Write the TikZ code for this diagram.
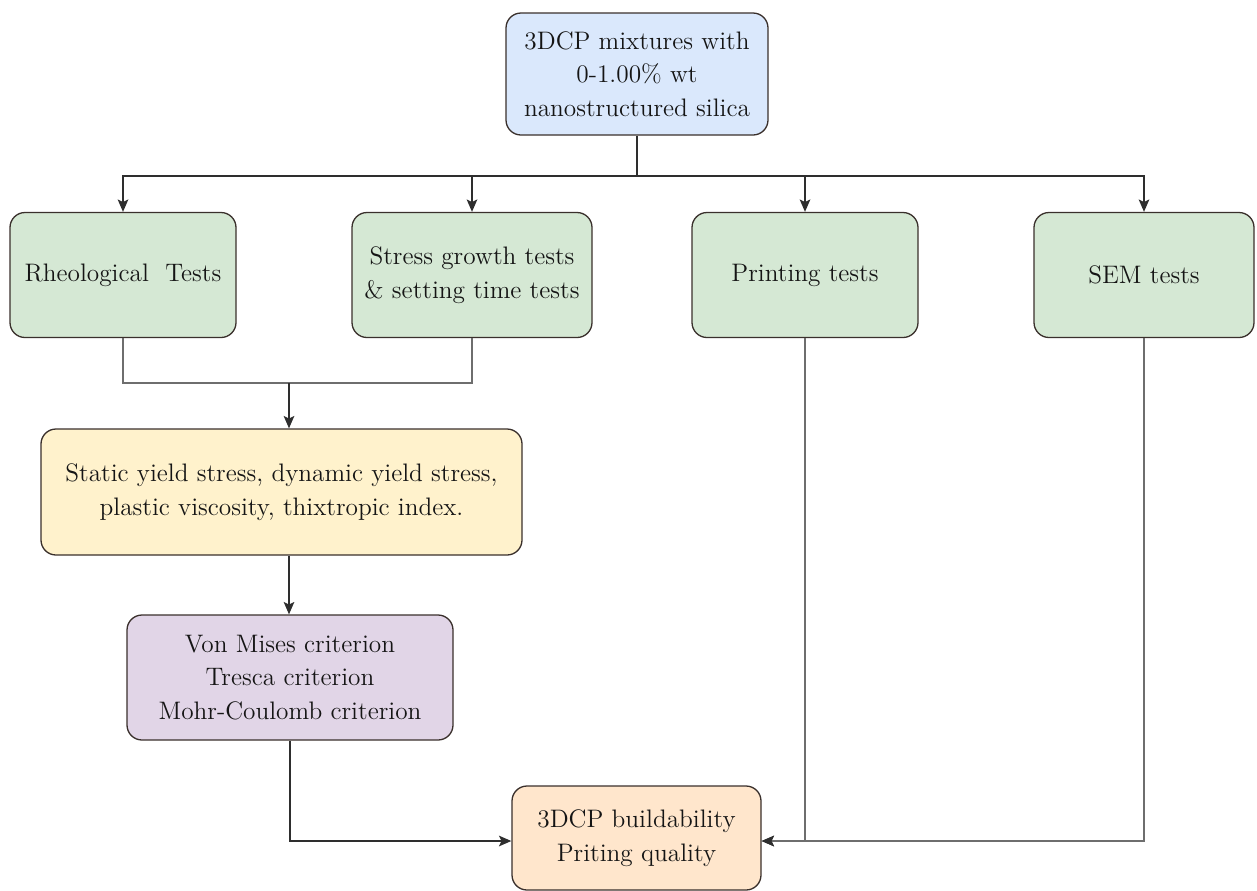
\documentclass[tikz,border=0pt]{standalone}
\usetikzlibrary{arrows.meta,calc}
\newdimen\pxu \pxu=0.02cm
\definecolor{bluef}{HTML}{DAE8FC}
\definecolor{greenf}{HTML}{D5E8D4}
\definecolor{yellowf}{HTML}{FFF2CC}
\definecolor{purplef}{HTML}{E1D5E7}
\definecolor{orangef}{HTML}{FFE6CC}
\definecolor{bordc}{HTML}{3A302C}
\definecolor{txtc}{HTML}{151515}
\definecolor{linec}{HTML}{2E2E2E}
\definecolor{linegc}{HTML}{6E6E6E}
\tikzset{
  box/.style={draw=bordc, line width=0.74pt, rounded corners=0.3cm, align=center,
    text=txtc, inner sep=0pt, font=\fontsize{14.4}{19.2}\selectfont},
  arr/.style={draw=linec, line width=0.85pt, -{Stealth[length=7pt,width=6pt,inset=1.4pt]}},
  ln/.style={draw=linec, line width=0.85pt},
  lng/.style={draw=linegc, line width=0.85pt},
  arrg/.style={draw=linegc, line width=0.85pt, -{Stealth[length=7pt,width=6pt,inset=1.4pt,color=linec]}},
}
\begin{document}
\begin{tikzpicture}[x=0.02cm, y=-0.02cm]
\useasboundingbox (0,0) rectangle (1257,890);
\node[box, fill=bluef, minimum width=262\pxu, minimum height=122\pxu] (top) at (637,74)
  {3DCP mixtures with\\0-1.00\% wt\\nanostructured silica};
\node[box, fill=greenf, minimum width=226\pxu, minimum height=125\pxu] (rheo) at (123,275)
  {Rheological\ \ Tests};
\node[box, fill=greenf, minimum width=240\pxu, minimum height=125\pxu] (stress) at (472,275)
  {Stress growth tests\\\& setting time tests};
\node[box, fill=greenf, minimum width=226\pxu, minimum height=125\pxu] (print) at (805,275)
  {Printing tests};
\node[box, fill=greenf, minimum width=220\pxu, minimum height=125\pxu] (sem) at (1144,275)
  {SEM tests};
\node[box, fill=yellowf, minimum width=481\pxu, minimum height=126\pxu] (yel) at (281.5,492)
  {Static yield stress, dynamic yield stress,\\plastic viscosity, thixtropic index.};
\node[box, fill=purplef, minimum width=326\pxu, minimum height=125\pxu] (pur) at (290,677.5)
  {Von Mises criterion\\Tresca criterion\\Mohr-Coulomb criterion};
\node[box, fill=orangef, minimum width=249\pxu, minimum height=104\pxu] (out) at (636.5,838)
  {3DCP buildability\\Priting quality};

\coordinate (j1) at (637,176);
\coordinate (j2) at (289,383);
\coordinate (j3) at (290,841);

\draw[ln] (top.south) -- (j1);
\draw[arr] (j1) -| (rheo.north);
\draw[arr] (j1) -| (stress.north);
\draw[arr] (j1) -| (print.north);
\draw[arr] (j1) -| (sem.north);

\draw[lng] (rheo.south) |- (j2);
\draw[lng] (stress.south) |- (j2);
\draw[arr] (j2) -- (yel.north -| j2);
\draw[arr] (yel.south -| j2) -- (pur.north -| j2);

\draw[arr] (pur.south) |- (j3 -| out.west);
\draw[arrg] (print.south) |- (j3 -| out.east);
\draw[arrg] (sem.south) |- (j3 -| out.east);
\end{tikzpicture}
\end{document}
